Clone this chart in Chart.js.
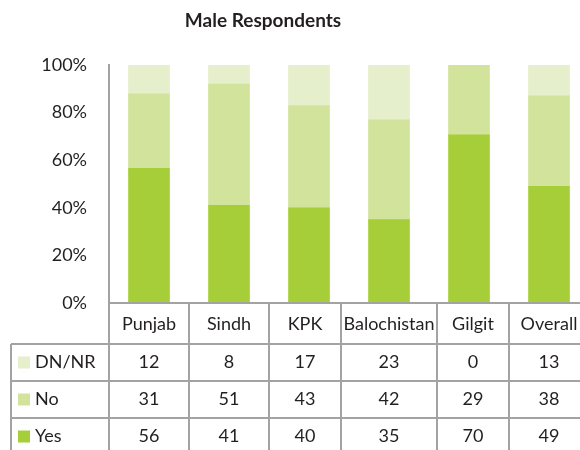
<!DOCTYPE html>
<html>
<head>
<meta charset="utf-8">
<script src="https://cdn.jsdelivr.net/npm/chart.js@4"></script>
<style>
  html, body { margin: 0; padding: 0; background: #fff; overflow: hidden; }
  #wrap { width: 600px; height: 450px; }
</style>
</head>
<body>
<div id="wrap"><canvas id="chart" width="600" height="450"></canvas></div>
<script>
var regions = ["Punjab", "Sindh", "KPK", "Balochistan", "Gilgit", "Overall"];
var yesVals = [56, 41, 40, 35, 70, 49];
var noVals = [31, 51, 43, 42, 29, 38];
var dnVals = [12, 8, 17, 23, 0, 13];
var yTicks = [0, 20, 40, 60, 80, 100];

var yesColor = "#a6ce39";
var noColor = "#d2e39b";
var dnColor = "#e5efcb";
var lineColor = "#a3a3a3";
var textColor = "#231f20";
var fontFamily = "Lato, 'Open Sans', sans-serif";

// 100% stacked: each column is shown as share of its own total
function share(vals) {
  return vals.map(function (v, i) {
    var tot = yesVals[i] + noVals[i] + dnVals[i];
    return v / tot * 100;
  });
}

// table columns are not all the same width (Balochistan needs more room)
var colWeights = [1, 1, 0.9, 1.2, 0.9, 1];

var tableRows = [
  { label: "DN/NR", values: dnVals, color: dnColor },
  { label: "No", values: noVals, color: noColor },
  { label: "Yes", values: yesVals, color: yesColor }
];

var tablePlugin = {
  id: "dataTable",
  afterDraw: function (chart) {
    var ctx = chart.ctx;
    var area = chart.chartArea;
    var xs = chart.scales.x;
    var catW = xs.width / regions.length;

    var edges = [area.left];
    for (var i = 0; i < colWeights.length; i++) {
      edges.push(edges[i] + colWeights[i] * catW);
    }

    var headTop = area.bottom;
    var headBottom = headTop + 41;
    var rowH = 37;
    var legLeft = 11;
    var right = chart.width;

    ctx.save();
    // title
    ctx.fillStyle = textColor;
    ctx.font = "bold 19px " + fontFamily;
    ctx.textAlign = "center";
    ctx.textBaseline = "middle";
    ctx.fillText("Male Respondents", 263, 21);

    ctx.strokeStyle = lineColor;
    ctx.lineWidth = 2;
    ctx.beginPath();
    ctx.moveTo(area.left, headTop);
    ctx.lineTo(right, headTop);
    for (var e = 0; e < edges.length; e++) {
      ctx.moveTo(edges[e], headTop);
      ctx.lineTo(edges[e], chart.height);
    }
    for (var r = 0; r <= tableRows.length; r++) {
      var yy = headBottom + r * rowH;
      ctx.moveTo(legLeft, yy);
      ctx.lineTo(right, yy);
    }
    ctx.moveTo(legLeft, headBottom);
    ctx.lineTo(legLeft, chart.height);
    ctx.stroke();

    ctx.font = "18px " + fontFamily;
    ctx.fillStyle = textColor;
    ctx.textBaseline = "middle";
    ctx.textAlign = "center";
    for (var c = 0; c < regions.length; c++) {
      var cx = (edges[c] + edges[c + 1]) / 2;
      ctx.fillText(regions[c], cx, (headTop + headBottom) / 2 + 1);
    }

    for (var k = 0; k < tableRows.length; k++) {
      var row = tableRows[k];
      var cy = headBottom + k * rowH + rowH / 2;
      ctx.fillStyle = row.color;
      ctx.fillRect(18, cy - 6, 12, 12);
      ctx.fillStyle = textColor;
      ctx.textAlign = "left";
      ctx.fillText(row.label, 35, cy);
      ctx.textAlign = "center";
      for (var j = 0; j < row.values.length; j++) {
        var vx = (edges[j] + edges[j + 1]) / 2;
        ctx.fillText(String(row.values[j]), vx, cy);
      }
    }
    ctx.restore();
  }
};

new Chart(document.getElementById("chart"), {
  type: "bar",
  data: {
    labels: regions,
    datasets: [
      { label: "Yes", data: share(yesVals), backgroundColor: yesColor },
      { label: "No", data: share(noVals), backgroundColor: noColor },
      { label: "DN/NR", data: share(dnVals), backgroundColor: dnColor }
    ]
  },
  options: {
    responsive: false,
    animation: false,
    barThickness: 41,
    layout: { padding: { left: 0, right: 11, top: 65, bottom: 147 } },
    plugins: {
      legend: { display: false },
      title: { display: false },
      tooltip: { enabled: false }
    },
    scales: {
      x: { stacked: true, display: false },
      y: {
        stacked: true,
        min: 0,
        max: 100,
        afterFit: function (s) { s.width = 109; },
        afterBuildTicks: function (s) {
          s.ticks = yTicks.map(function (v) { return { value: v }; });
        },
        grid: { display: false, drawTicks: false },
        border: { display: true, color: lineColor, width: 2 },
        ticks: {
          padding: 22,
          color: textColor,
          font: { family: fontFamily, size: 18 },
          callback: function (v) { return v + "%"; }
        }
      }
    }
  },
  plugins: [tablePlugin]
});
</script>
</body>
</html>
